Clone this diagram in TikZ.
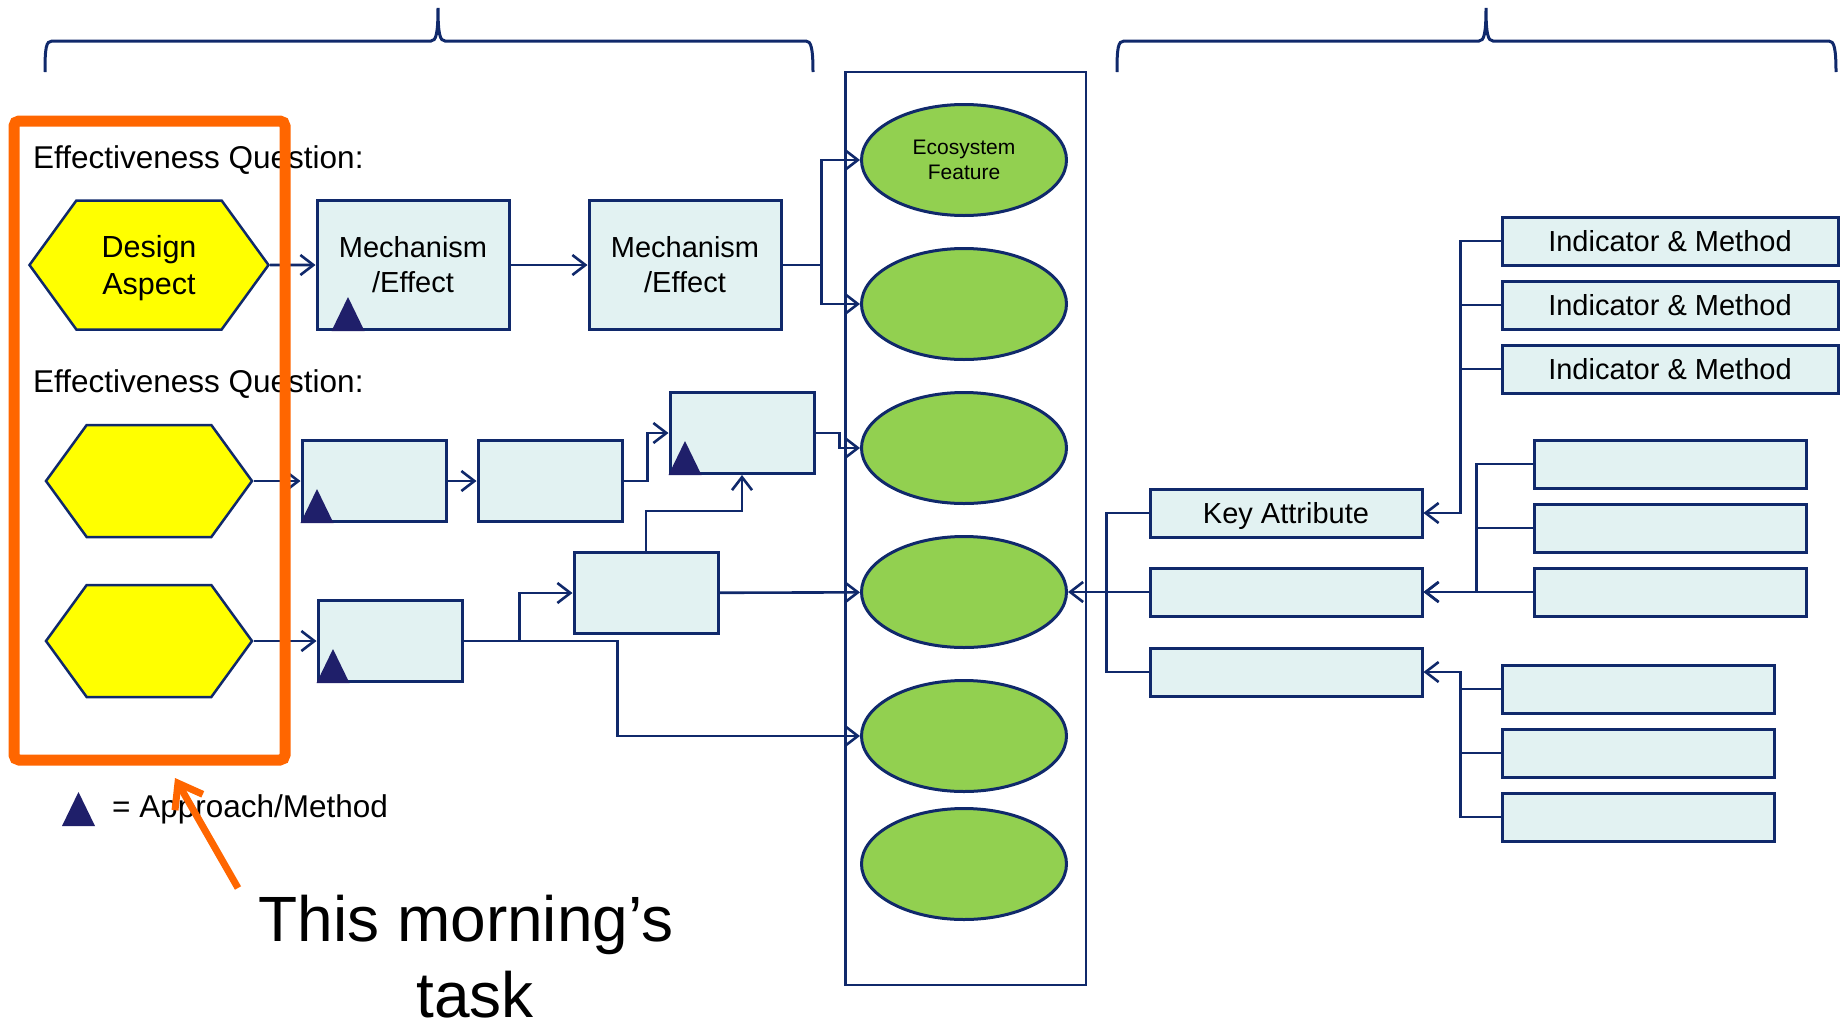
\documentclass[tikz,border=0pt]{standalone}
\usepackage{fontspec}
\setmainfont{Liberation Sans}
\usepackage{tikz}
\usetikzlibrary{positioning, arrows.meta, shapes.geometric, shapes.symbols}

\definecolor{navy}{HTML}{10296B}
\definecolor{boxfill}{HTML}{E2F2F2}
\definecolor{ecogreen}{HTML}{92D050}
\definecolor{hexyellow}{HTML}{FFFF00}
\definecolor{taskorange}{HTML}{FF6600}
\definecolor{apnavy}{HTML}{1F1F6A}

\newcommand{\apmark}[2]{\fill[apnavy] ([xshift=#2]#1) -- ++(33,0) -- ++(-16.5,-34) -- cycle;}

\begin{document}
\begin{tikzpicture}
	[x=1pt, y=-1pt, on grid, >={Straight Barb[length=13pt,width=20pt]},
	 conn/.style={draw=navy, line width=2.6pt},
	 mech/.style={rectangle, draw=navy, fill=boxfill, line width=3pt, inner sep=0pt, align=center,
	   minimum width=144pt, minimum height=81pt, font=\fontsize{29}{35}\selectfont},
	 bigmech/.style={minimum width=192pt, minimum height=129pt},
	 hexa/.style={signal, signal to=east and west, signal pointer angle=108, draw=navy, fill=hexyellow,
	   line width=2.5pt, inner sep=0pt, align=center, minimum width=206pt, minimum height=112pt,
	   text depth=0pt, font=\fontsize{30.5}{37}\selectfont},
	 eco/.style={ellipse, draw=navy, fill=ecogreen, line width=3pt, inner sep=0pt, align=center,
	   minimum width=205pt, minimum height=111pt, text depth=0pt, font=\fontsize{21}{25}\selectfont},
	 keybox/.style={rectangle, draw=navy, fill=boxfill, line width=3pt, inner sep=0pt, text depth=0pt,
	   minimum width=272pt, minimum height=48pt, font=\fontsize{29}{35}\selectfont},
	 label/.style={inner sep=0pt, font=\fontsize{31.5}{38}\selectfont}]

   \useasboundingbox (0,0) rectangle (1848,1023);

   \draw[navy, line width=3pt] (45,72) .. controls (45,48) and (46,41) .. (52,41) -- (431,41)
      .. controls (436,41) and (438,34) .. (438,8) .. controls (438,34) and (440,41) .. (445,41)
      -- (806,41) .. controls (811,41) and (813,48) .. (813,72);
   \draw[navy, line width=3pt] (1117,72) .. controls (1117,48) and (1118,41) .. (1124,41) -- (1479,41)
      .. controls (1484,41) and (1486,34) .. (1486,8) .. controls (1486,34) and (1488,41) .. (1493,41)
      -- (1829,41) .. controls (1834,41) and (1836,48) .. (1836,72);
   \draw[navy, line width=2.5pt] (845.5,72) rectangle (1086,985);

   \node[label, anchor=base west] (question_1) at (33,168) {Effectiveness Question:};
   \node[label, anchor=base west] (question_2) at (33,392) {Effectiveness Question:};
   \node[label, anchor=base west] (legend_text) at (112,817) {= Approach/Method};
   \node[inner sep=0pt, align=center, font=\fontsize{64}{76}\selectfont] (task) at (466,957) {This morning’s\\\hspace*{18pt}task};

   \node[hexa, minimum width=239pt, minimum height=129pt] (hex_1) at (149,265) {Design\\Aspect};
   \node[mech, bigmech] (mech_1) [right=264pt of hex_1] {Mechanism\\/Effect};
   \node[mech, bigmech] (mech_2) [right=272pt of mech_1] {Mechanism\\/Effect};
   \node[hexa] (hex_2) [below=216pt of hex_1] {};
   \node[hexa] (hex_3) [below=160pt of hex_2] {};
   \node[mech] (mech_3) [right=225pt of hex_2] {};
   \node[mech] (mech_4) [right=176pt of mech_3] {};
   \node[mech] (mech_5) [above right=48pt and 192pt of mech_4] {};
   \node[mech] (mech_7) [right=241pt of hex_3] {};
   \node[mech] (mech_6) [above right=48pt and 256pt of mech_7] {};

   \node[eco] (eco_1) at (964,160) {Ecosystem\\Feature};
   \node[eco] (eco_2) [below=144pt of eco_1] {};
   \node[eco] (eco_3) [below=144pt of eco_2] {};
   \node[eco] (eco_4) [below=144pt of eco_3] {};
   \node[eco] (eco_5) [below=144pt of eco_4] {};
   \node[eco] (eco_6) [below=128pt of eco_5] {};

   \node[keybox] (key_1) at (1286,513) {Key Attribute};
   \node[keybox] (key_2) [below=79pt of key_1] {};
   \node[keybox] (key_3) [below=80pt of key_2] {};

   \node[keybox, minimum width=336pt] (ind_1) at (1670,241) {Indicator \& Method};
   \node[keybox, minimum width=336pt] (ind_2) [below=64pt of ind_1] {Indicator \& Method};
   \node[keybox, minimum width=336pt] (ind_3) [below=64pt of ind_2] {Indicator \& Method};
   \node[keybox] (ind_4) at (1670,464) {};
   \node[keybox] (ind_5) [below=64pt of ind_4] {};
   \node[keybox] (ind_6) [below=64pt of ind_5] {};
   \node[keybox] (ind_7) at (1638,689) {};
   \node[keybox] (ind_8) [below=64pt of ind_7] {};
   \node[keybox] (ind_9) [below=64pt of ind_8] {};

    \path[->, conn]
   (hex_1) edge (mech_1)
   (mech_1) edge (mech_2)
   (hex_2) edge (mech_3)
   (mech_3) edge (mech_4)
   (hex_3) edge (mech_7)
   (mech_6) edge (eco_4)
   (key_2) edge (eco_4)
   (ind_6) edge (key_2);

   \draw[->, conn] (mech_2.east) -- ++(39,0) |- (eco_1.west);
   \draw[->, conn] (mech_2.east) -- ++(39,0) |- (eco_2.west);
   \draw[->, conn] (mech_4.east) -- ++(24,0) |- (mech_5.west);
   \draw[->, conn] (mech_5.east) -- ++(24,0) |- (eco_3.west);
   \draw[->, conn] (mech_7.east) -- ++(56,0) |- (mech_6.west);
   \draw[->, conn] (mech_7.east) -- ++(154,0) |- (eco_5.west);
   \draw[->, conn] (mech_6.north) -- ++(0,-40) -| (mech_5.south);

   \draw[conn] (key_1.west) -- ++(-42,0) |- (key_3.west);
   \draw[->, conn] (ind_1.west) -- ++(-40,0) |- (key_1.east);
   \draw[conn] (ind_2.west) -- ++(-40,0) (ind_3.west) -- ++(-40,0);
   \draw[->, conn] (ind_4.west) -- ++(-56,0) |- (key_2.east);
   \draw[conn] (ind_5.west) -- ++(-56,0);
   \draw[->, conn] (ind_9.west) -- ++(-40,0) |- (key_3.east);
   \draw[conn] (ind_7.west) -- ++(-40,0) (ind_8.west) -- ++(-40,0);

   \apmark{mech_1.south west}{16pt}
   \apmark{mech_3.south west}{0pt}
   \apmark{mech_5.south west}{0pt}
   \apmark{mech_7.south west}{0pt}
   \coordinate (legend_mark) at (62,826);
   \apmark{legend_mark}{0pt}

   \node[draw=taskorange, line width=11pt, rounded corners=5pt, minimum width=271pt, minimum height=639pt] (task_frame) at (149.5,440.5) {};
   \coordinate (task_tail) at (238,888);
   \coordinate (task_tip) at (175,778);
   \draw[taskorange, line width=7pt, -{Straight Barb[length=22pt,width=32pt]}] (task_tail) -- (task_tip);

\end{tikzpicture}
\end{document}
